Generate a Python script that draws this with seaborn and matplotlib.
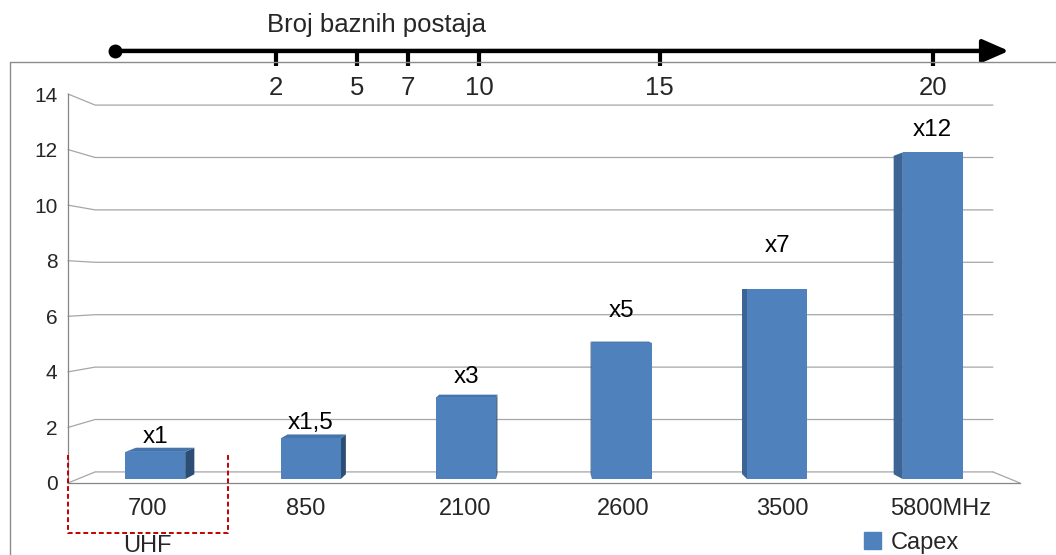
import numpy as np
import pandas as pd
import matplotlib
matplotlib.use("Agg")
import matplotlib.pyplot as plt
import seaborn as sns
from matplotlib.patches import Polygon, Patch
from matplotlib.lines import Line2D

# ---------------- data ----------------
categories = ["700", "850", "2100", "2600", "3500", "5800MHz"]
capex = [1, 1.5, 3, 5, 7, 12]
bar_labels = ["x1", "x1,5", "x3", "x5", "x7", "x12"]
y_ticks = [0, 2, 4, 6, 8, 10, 12, 14]
station_counts = [2, 5, 7, 10, 15, 20]
series_name = "Capex"
axis_title = "Broj baznih postaja"
group_label = "UHF"

# ---------------- layout (positions, not data) ----------------
station_pos = [0.81, 1.32, 1.64, 2.09, 3.23, 4.95]   # along the category axis
label_lift = [0.66, 0.66, 0.81, 1.19, 1.53, 0.70]    # label offset above bar

W, H = 1056, 555
BLUE = "#4F81BD"
GRID = "#A6A6A6"
AXC = "#868686"

sns.set_style("white")
plt.rcParams['font.family'] = ['Liberation Sans', 'DejaVu Sans']

fig = plt.figure(figsize=(W / 100, H / 100), dpi=100)
ax = fig.add_axes([68 / W, 1 - 483 / H, (1020 - 68) / W, (483 - 94) / H])

df = pd.DataFrame({"freq": categories, "capex": capex})
sns.barplot(data=df, x="freq", y="capex", color=BLUE, saturation=1,
            width=0.385, ax=ax, zorder=3, linewidth=0)
ax.set_xlim(-0.5, 5.5)
ax.set_ylim(0, 14)
ax.set_xlabel("")
ax.set_ylabel("")

# perspective helpers (data coords, vanishing point)
VX, VY = 2.5, 7.0
T_FRONT, T_BACK, T_WALL = 0.02, 0.045, 0.057


def proj(x, y, t):
    return x + (VX - x) * t, y + (VY - y) * t


# back wall gridlines + floor
for v in y_ticks:
    bx0, by0 = proj(-0.5, v, T_WALL)
    bx1, by1 = proj(5.5, v, T_WALL)
    ax.plot([-0.5, bx0, bx1], [v, by0, by1], color=GRID, lw=0.9,
            zorder=1, clip_on=False)
fx, fy = proj(5.5, 0, T_WALL)
ax.plot([5.5, fx], [0, fy], color=GRID, lw=0.9, zorder=1, clip_on=False)

# 3D bars
patches = list(ax.patches)
for i, p in enumerate(patches):
    x0, y0 = p.get_x(), p.get_y()
    x1, y1 = x0 + p.get_width(), y0 + p.get_height()
    fBL = proj(x0, y0, T_FRONT); fBR = proj(x1, y0, T_FRONT)
    fTR = proj(x1, y1, T_FRONT); fTL = proj(x0, y1, T_FRONT)
    bBL = proj(x0, y0, T_BACK); bBR = proj(x1, y0, T_BACK)
    bTR = proj(x1, y1, T_BACK); bTL = proj(x0, y1, T_BACK)
    p.set_x(fBL[0]); p.set_y(fBL[1])
    p.set_width(fBR[0] - fBL[0]); p.set_height(fTL[1] - fBL[1])
    cx = (x0 + x1) / 2
    if cx < VX:
        side = Polygon([fBR, fTR, bTR, bBR], closed=True, color="#2C4D75", lw=0, zorder=2.5)
    else:
        side = Polygon([fBL, fTL, bTL, bBL], closed=True, color="#3C6494", lw=0, zorder=2.5)
    ax.add_patch(side)
    if y1 < VY:
        top = Polygon([fTL, fTR, bTR, bTL], closed=True, color="#4674AD", lw=0, zorder=2.6)
        ax.add_patch(top)
    ax.text((fBL[0] + fBR[0]) / 2, capex[i] + label_lift[i], bar_labels[i],
            ha="center", va="center", fontsize=17.5, color="black", zorder=5)

# axes styling
for s in ["top", "right"]:
    ax.spines[s].set_visible(False)
for s in ["left", "bottom"]:
    ax.spines[s].set_color(AXC)
    ax.spines[s].set_linewidth(0.9)
ax.set_yticks(y_ticks)
ax.set_yticklabels([str(v) for v in y_ticks])
ax.tick_params(axis="y", length=3.6, color=AXC, width=0.9, labelsize=15, pad=4)
ax.set_xticks(range(len(categories)))
ax.set_xticklabels(categories)
ax.set_xticks(np.arange(-0.5, len(categories), 1.0), minor=True)
ax.tick_params(axis="x", which="major", length=0, labelsize=17, pad=11)
ax.tick_params(axis="x", which="minor", length=5, color=AXC, width=0.9)

# top axis: number of base stations
top_y = 15.55
ax.annotate("", xy=(5.43, top_y), xytext=(-0.204, top_y),
            arrowprops=dict(arrowstyle="-|>,head_length=0.8,head_width=0.35",
                            lw=3.2, color="black", shrinkA=0, shrinkB=0,
                            mutation_scale=20),
            annotation_clip=False)
ax.plot([-0.204], [top_y], "o", ms=9, color="black", clip_on=False, zorder=6)
for n, pos in zip(station_counts, station_pos):
    ax.plot([pos, pos], [top_y, 15.0], color="black", lw=3, clip_on=False,
            solid_capstyle="butt")
    ax.text(pos, 14.22, str(n), ha="center", va="center", fontsize=18.5)
ax.text(1.447, 16.5, axis_title, ha="center", va="center", fontsize=18.5)

# UHF bracket
ax.plot([-0.5, -0.5, 0.51, 0.51], [1.0, -1.8, -1.8, 1.0], color="#C00000",
        ls=(0, (2.5, 1.5)), lw=1.4, clip_on=False, zorder=6)
ax.text(0.0, -2.27, group_label, ha="center", va="center", fontsize=17)

# legend
fig.legend(handles=[Patch(color=BLUE, label=series_name)], loc="center left",
           bbox_to_anchor=(864 / W, 1 - 543 / H), frameon=False, fontsize=17,
           handlelength=0.7, handleheight=0.7, handletextpad=0.45,
           borderpad=0, borderaxespad=0)

# outer chart frame
fig.add_artist(Line2D([10 / W, 1], [1 - 62 / H] * 2, color="#8C8C8C", lw=1,
                      transform=fig.transFigure))
fig.add_artist(Line2D([10 / W] * 2, [0, 1 - 62 / H], color="#8C8C8C", lw=1,
                      transform=fig.transFigure))

fig.savefig("out.png", dpi=100)
